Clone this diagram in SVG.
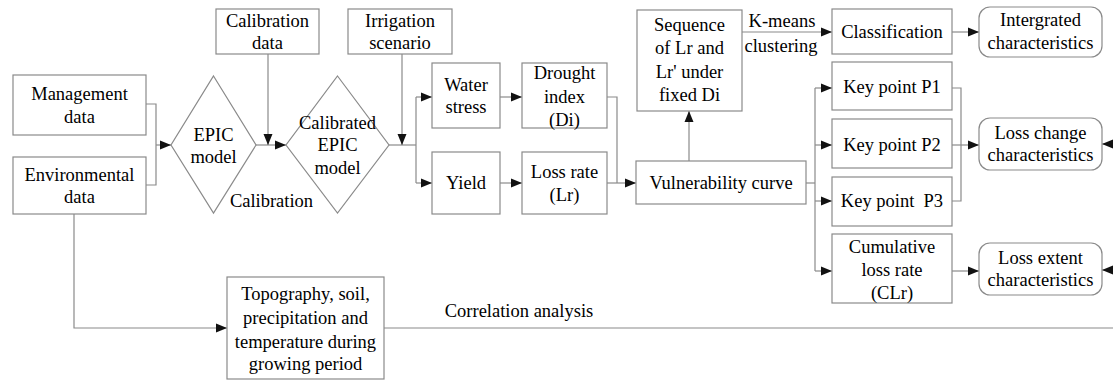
<svg xmlns="http://www.w3.org/2000/svg" width="1113" height="381" viewBox="0 0 1113 381" font-family="'Liberation Serif', 'DejaVu Serif', serif">
<style>
.box{fill:#fff;stroke:#8a8a8a;stroke-width:1.2}
.ln{fill:none;stroke:#8a8a8a;stroke-width:1.2}
text{font-family:'Liberation Serif','DejaVu Serif',serif;font-size:18.5px;fill:#000;text-anchor:middle}
</style>
<defs>
<marker id="ah" markerUnits="userSpaceOnUse" markerWidth="12" markerHeight="10" refX="11" refY="5" orient="auto">
<path d="M0,0.5 L11,5 L0,9.5 Z" fill="#111"/>
</marker>
</defs>
<rect width="1113" height="381" fill="#fff"/>
<g id="connectors">
<path class="ln" d="M146,104 H156 V185 H146"/>
<path class="ln" d="M156,145 H171" marker-end="url(#ah)"/>
<path class="ln" d="M256,145 H286" marker-end="url(#ah)"/>
<path class="ln" d="M268,54 V145" marker-end="url(#ah)"/>
<path class="ln" d="M389,145 H416"/>
<path class="ln" d="M402,54 V145" marker-end="url(#ah)"/>
<path class="ln" d="M416,97 V183"/>
<path class="ln" d="M416,97 H432" marker-end="url(#ah)"/>
<path class="ln" d="M416,183 H432" marker-end="url(#ah)"/>
<path class="ln" d="M500,97 H522" marker-end="url(#ah)"/>
<path class="ln" d="M500,183 H522" marker-end="url(#ah)"/>
<path class="ln" d="M607,97 H617 V183"/>
<path class="ln" d="M607,183 H636" marker-end="url(#ah)"/>
<path class="ln" d="M689,161 V111" marker-end="url(#ah)"/>
<path class="ln" d="M742,32 H832" marker-end="url(#ah)"/>
<path class="ln" d="M952,32 H979" marker-end="url(#ah)"/>
<path class="ln" d="M806,183 H815"/>
<path class="ln" d="M815,88 V271"/>
<path class="ln" d="M815,88 H832" marker-end="url(#ah)"/>
<path class="ln" d="M815,145 H832" marker-end="url(#ah)"/>
<path class="ln" d="M815,201 H832" marker-end="url(#ah)"/>
<path class="ln" d="M815,271 H832" marker-end="url(#ah)"/>
<path class="ln" d="M952,88 H961 V201 H952"/>
<path class="ln" d="M952,145 H979" marker-end="url(#ah)"/>
<path class="ln" d="M952,271 H979" marker-end="url(#ah)"/>
<path class="ln" d="M1114,144 H1102" marker-end="url(#ah)"/>
<path class="ln" d="M1114,270 H1102" marker-end="url(#ah)"/>
<path class="ln" d="M74,214 V328 H227" marker-end="url(#ah)"/>
<path class="ln" d="M384,328 H1114"/>
<text x="782" y="27">K-means</text>
<text x="781" y="52">clustering</text>
<text x="271.5" y="207">Calibration</text>
<text x="519" y="317">Correlation analysis</text>
</g>
<g id="management"><rect class="box" x="13" y="75" width="133" height="60"/><text x="79.5" y="100">Management</text><text x="79.5" y="123">data</text></g>
<g id="environmental"><rect class="box" x="13" y="157" width="133" height="57"/><text x="79.5" y="181">Environmental</text><text x="79.5" y="203">data</text></g>
<g id="epic"><polygon class="box" points="213.5,76 256,145 213.5,213 171,145"/><text x="213.5" y="141">EPIC</text><text x="213.5" y="163">model</text></g>
<g id="calibration-data"><rect class="box" x="216" y="9" width="103" height="45"/><text x="267.5" y="27">Calibration</text><text x="267.5" y="49">data</text></g>
<g id="calibrated-epic"><polygon class="box" points="337.5,76 389,145 337.5,213 286,145"/><text x="337.5" y="129">Calibrated</text><text x="337.5" y="151">EPIC</text><text x="337.5" y="174">model</text></g>
<g id="irrigation"><rect class="box" x="348" y="9" width="104" height="45"/><text x="400" y="27">Irrigation</text><text x="400" y="49">scenario</text></g>
<g id="water-stress"><rect class="box" x="432" y="63" width="68" height="65"/><text x="466" y="91">Water</text><text x="466" y="113">stress</text></g>
<g id="drought-index"><rect class="box" x="522" y="63" width="85" height="65"/><text x="564.5" y="79">Drought</text><text x="564.5" y="102.5">index</text><text x="564.5" y="125.5">(Di)</text></g>
<g id="yield"><rect class="box" x="432" y="152" width="68" height="62"/><text x="466" y="189">Yield</text></g>
<g id="loss-rate"><rect class="box" x="522" y="152" width="85" height="62"/><text x="564.5" y="178">Loss rate</text><text x="564.5" y="201">(Lr)</text></g>
<g id="vulnerability"><rect class="box" x="636" y="161" width="170" height="43"/><text x="721" y="189">Vulnerability curve</text></g>
<g id="sequence"><rect class="box" x="637" y="10" width="105" height="101"/><text x="689.5" y="31">Sequence</text><text x="689.5" y="54">of Lr and</text><text x="689.5" y="78">Lr' under</text><text x="689.5" y="101">fixed Di</text></g>
<g id="classification"><rect class="box" x="832" y="9" width="120" height="45"/><text x="892" y="38">Classification</text></g>
<g id="integrated"><rect class="box" x="979" y="7" width="123" height="50" rx="11"/><text x="1040.5" y="26">Intergrated</text><text x="1040.5" y="49">characteristics</text></g>
<g id="p1"><rect class="box" x="832" y="62" width="120" height="48"/><text x="892" y="93">Key point P1</text></g>
<g id="p2"><rect class="box" x="832" y="119" width="120" height="49"/><text x="892" y="151">Key point P2</text></g>
<g id="p3"><rect class="box" x="832" y="177" width="120" height="49"/><text x="892" y="207" xml:space="preserve">Key point  P3</text></g>
<g id="cumulative"><rect class="box" x="832" y="234" width="120" height="69"/><text x="892" y="253">Cumulative</text><text x="892" y="276">loss rate</text><text x="892" y="299">(CLr)</text></g>
<g id="loss-change"><rect class="box" x="979" y="118" width="123" height="52" rx="11"/><text x="1040.5" y="139">Loss change</text><text x="1040.5" y="161">characteristics</text></g>
<g id="loss-extent"><rect class="box" x="979" y="243" width="123" height="52" rx="11"/><text x="1040.5" y="264">Loss extent</text><text x="1040.5" y="286">characteristics</text></g>
<g id="topography"><rect class="box" x="227" y="277" width="157" height="102"/><text x="305.5" y="300">Topography, soil,</text><text x="305.5" y="324">precipitation and</text><text x="305.5" y="348">temperature during</text><text x="305.5" y="370">growing period</text></g>
</svg>
